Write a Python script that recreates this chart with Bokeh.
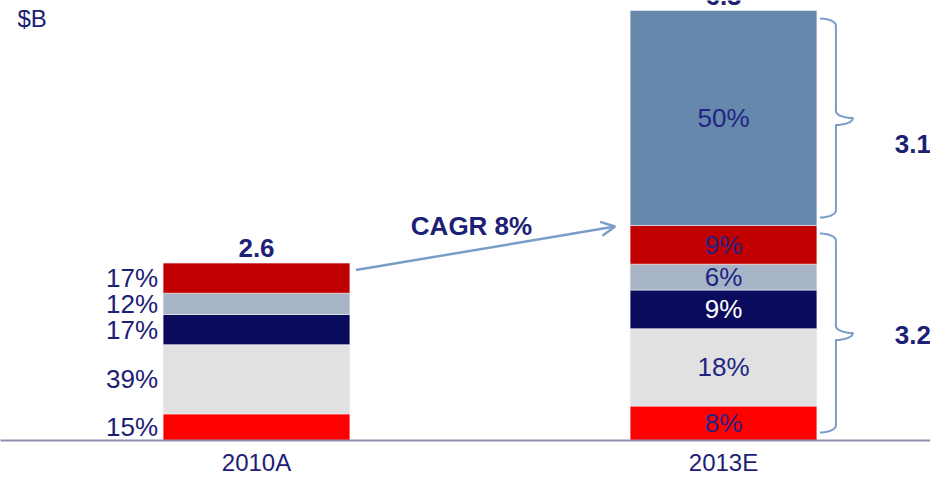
import numpy as np
from bokeh.plotting import figure
from bokeh.models import (ColumnDataSource, Range1d, FixedTicker, Arrow, OpenHead, Label)
from bokeh.core.properties import value
from bokeh.embed import file_html
from bokeh.resources import INLINE

# ---------------- data ----------------
categories = ["2010A", "2013E"]
totals = [2.6, 6.3]
total_labels = ["2.6", "6.3"]
pct_2010 = [15, 39, 17, 12, 17]
pct_2013 = [8, 18, 9, 6, 9, 50]
seg_colors = ["#FF0000", "#E1E1E1", "#0B0B5E", "#A6B4C6", "#C00000", "#6788AD"]
seg_text_colors = ["#1F2483", "#1F2483", "#FFFFFF", "#1F2483", "#1F2483", "#1F2483"]
brace_groups = [(0, 5), (5, 6)]        # segment index ranges of 2013E grouped by braces
brace_labels = ["3.2", "3.1"]
cagr_label = "CAGR 8%"
unit_label = "$B"

# ---------------- layout ----------------
FRAME_W, FRAME_H = 930, 440
BAR_W = 0.4
PXU_X, PXU_Y = 467.0, 68.25
x_start = -256 / PXU_X
x_end = x_start + FRAME_W / PXU_X
y_start = 0.0
y_end = FRAME_H / PXU_Y
px_x = 1 / PXU_X
px_y = 1 / PXU_Y

NAVY = "#1C2175"
FONT = value("Liberation Sans")

p = figure(frame_width=FRAME_W, frame_height=FRAME_H, output_backend="svg",
           toolbar_location=None,
           x_range=Range1d(x_start, x_end), y_range=Range1d(y_start, y_end),
           y_axis_location=None, min_border_left=0, min_border_right=0,
           min_border_top=0, min_border_bottom=0)
p.outline_line_color = None
p.grid.visible = False
p.background_fill_color = "white"

# ---------------- stacked bars ----------------
rows = dict(x=[], bottom=[], top=[], color=[], label=[], tcolor=[], mid=[])
for i, (tot, pcts) in enumerate(zip(totals, [pct_2010, pct_2013])):
    b = 0.0
    for j, pc in enumerate(pcts):
        v = tot * pc / 100.0
        rows["x"].append(i)
        rows["bottom"].append(b)
        rows["top"].append(b + v)
        rows["color"].append(seg_colors[j])
        rows["label"].append(f"{pc}%")
        rows["tcolor"].append(seg_text_colors[j] if i == 1 else NAVY)
        rows["mid"].append(b + v / 2)
        b += v
src = ColumnDataSource(rows)
p.vbar(x="x", bottom="bottom", top="top", width=BAR_W, fill_color="color",
       line_color="#F4F4F4", line_width=0.6, source=src)

# labels: 2010A to the left of bar, 2013E inside bar
n0 = len(pct_2010)
src_l = ColumnDataSource({k: v[:n0] for k, v in rows.items()})
src_r = ColumnDataSource({k: v[n0:] for k, v in rows.items()})
p.text(x=0 - BAR_W / 2, y="mid", text="label", source=src_l, x_offset=-5,
       text_align="right", text_baseline="middle", text_font=FONT,
       text_font_size="26px", text_color=NAVY)
p.text(x=1, y="mid", text="label", source=src_r, text_color="tcolor",
       text_align="center", text_baseline="middle", text_font=FONT,
       text_font_size="26px")

# totals above bars
p.text(x=[0, 1], y=totals, text=total_labels, text_align="center",
       text_baseline="bottom", y_offset=-6, text_font=FONT,
       text_font_style="bold", text_font_size="26px", text_color=NAVY)

# ---------------- braces ----------------
BRACE_C = "#7A9CC8"
xe = 1 + BAR_W / 2 + 3 * px_x
xv = 1 + BAR_W / 2 + 19 * px_x
xt = 1 + BAR_W / 2 + 36 * px_x
r = 7 * px_y
t = np.linspace(0, np.pi / 2, 10)
seg_tops = rows["top"][n0:]
seg_bots = rows["bottom"][n0:]
brace_xs, brace_ys, lab_x, lab_y = [], [], [], []
for (a, bidx) in brace_groups:
    lo = seg_bots[a] + 8 * px_y
    hi = seg_tops[bidx - 1] - 8 * px_y
    mid = (lo + hi) / 2
    xs, ys = [], []
    xs += list(xe + (xv - xe) * np.sin(t)); ys += list(hi - r * (1 - np.cos(t)))
    xs += list(xv + (xt - xv) * (1 - np.cos(t))); ys += list(mid + r - r * np.sin(t))
    xs += list(xt - (xt - xv) * (1 - np.sin(t[::-1]))); ys += list(mid - r * np.cos(t[::-1]))
    xs += list(xv - (xv - xe) * (1 - np.cos(t))); ys += list(lo + r - r * np.sin(t))
    brace_xs.append(xs); brace_ys.append(ys)
    lab_x.append(1 + BAR_W / 2 + 96 * px_x)
    lab_y.append(mid)
p.multi_line(xs=brace_xs, ys=brace_ys, line_color=BRACE_C, line_width=2)
p.text(x=lab_x, y=lab_y, text=brace_labels, y_offset=[2, 26], text_align="center",
       text_baseline="middle", text_font=FONT, text_font_style="bold",
       text_font_size="26px", text_color=NAVY)

# ---------------- CAGR arrow ----------------
ax0, ay0 = 0 + BAR_W / 2 + 6 * px_x, totals[0] - 7 * px_y
ax1, ay1 = 1 - BAR_W / 2 - 15 * px_x, seg_tops[4] - 1 * px_y
p.add_layout(Arrow(x_start=ax0, y_start=ay0, x_end=ax1, y_end=ay1,
                   line_color=BRACE_C, line_width=2.5,
                   end=OpenHead(size=14, line_color=BRACE_C, line_width=2.5)))
p.text(x=[(ax0 + ax1) / 2 - 14 * px_x], y=[(ay0 + ay1) / 2], text=[cagr_label],
       y_offset=-22, text_align="center", text_baseline="middle", text_font=FONT,
       text_font_style="bold", text_font_size="26px", text_color=NAVY)

# unit label
p.add_layout(Label(x=x_start + 17 * px_x, y=y_end - 4 * px_y, text=unit_label,
                   text_baseline="top", text_font="Liberation Sans",
                   text_font_size="24px", text_color=NAVY))

# ---------------- axis ----------------
ax = p.xaxis[0]
ax.ticker = FixedTicker(ticks=[0, 1])
ax.major_label_overrides = {0: categories[0], 1: categories[1]}
ax.axis_line_color = "#8E8EAE"
ax.axis_line_width = 2
ax.major_tick_line_color = None
ax.minor_tick_line_color = None
ax.major_tick_out = 0
ax.major_tick_in = 0
ax.major_label_standoff = 8
ax.major_label_text_font = "Liberation Sans"
ax.major_label_text_font_size = "24px"
ax.major_label_text_color = NAVY

open("out.html", "w").write(file_html(p, INLINE))
